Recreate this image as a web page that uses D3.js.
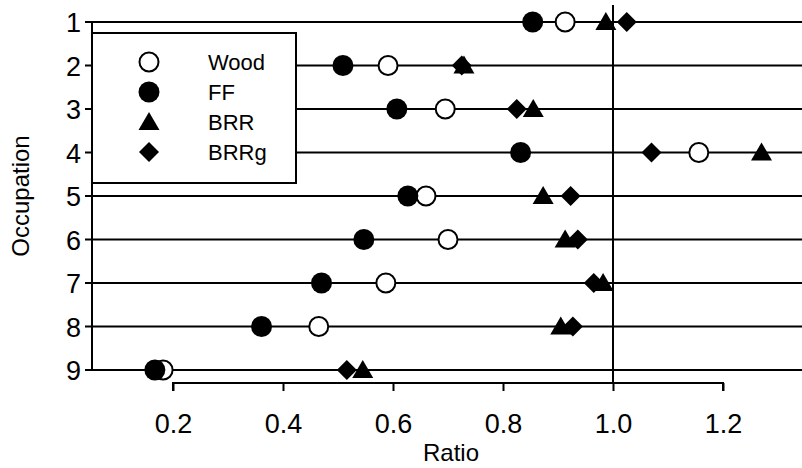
<!DOCTYPE html>
<html>
<head>
<meta charset="utf-8">
<title>Occupation ratios</title>
<script src="https://cdn.jsdelivr.net/npm/d3@7"></script>
<style>
  body { margin: 0; background: #fff; }
  text { font-family: "Liberation Sans", Arial, Helvetica, sans-serif; fill: #000; }
</style>
</head>
<body>
<div id="chart"></div>
<script>
// data
const occupations = [1, 2, 3, 4, 5, 6, 7, 8, 9];
const wood = [0.913, 0.591, 0.695, 1.156, 0.660, 0.700, 0.587, 0.465, 0.182];
const ff   = [0.854, 0.509, 0.607, 0.832, 0.627, 0.547, 0.470, 0.361, 0.167];
const brr  = [0.987, 0.729, 0.855, 1.270, 0.873, 0.913, 0.982, 0.905, 0.545];
const brrg = [1.025, 0.725, 0.825, 1.070, 0.923, 0.936, 0.965, 0.927, 0.516];
const xTicks = [0.2, 0.4, 0.6, 0.8, 1.0, 1.2];
const seriesNames = ["Wood", "FF", "BRR", "BRRg"];

const W = 802, H = 468;

const svg = d3.select("#chart").append("svg")
    .attr("width", W)
    .attr("height", H);

const x = d3.scaleLinear().domain([0.2, 1.2]).range([173, 723]);
const y = d3.scalePoint().domain(occupations).range([22, 370]);
const axisX = 92, axisY = 383;

// marker shapes
function shape(name) {
    if (name === "BRR") return "M0,-10L10.5,8L-10.5,8Z";
    return "M0,-10L10,0L0,10L-10,0Z";
}
function drawMarker(g, name) {
    if (name === "Wood") {
        g.append("circle").attr("r", 9.5)
            .attr("fill", "#fff").attr("stroke", "#000").attr("stroke-width", 2);
    } else if (name === "FF") {
        g.append("circle").attr("r", 10.5).attr("fill", "#000");
    } else {
        g.append("path").attr("d", shape(name)).attr("fill", "#000");
    }
}

// row lines
svg.selectAll("line.row").data(occupations).enter()
    .append("line")
    .attr("class", "row")
    .attr("x1", axisX - 7).attr("x2", W)
    .attr("y1", d => y(d)).attr("y2", d => y(d))
    .attr("stroke", "#000").attr("stroke-width", 2);

// y axis line
svg.append("line")
    .attr("x1", axisX).attr("x2", axisX)
    .attr("y1", y(1) - 1).attr("y2", y(9) + 1)
    .attr("stroke", "#000").attr("stroke-width", 2);

// y tick labels
svg.selectAll("text.ylab").data(occupations).enter()
    .append("text")
    .attr("class", "ylab")
    .attr("x", 81)
    .attr("y", d => y(d) + 10)
    .attr("text-anchor", "end")
    .style("font-size", "27px")
    .text(d => d);

// reference line at 1.0
svg.append("line")
    .attr("x1", x(1)).attr("x2", x(1))
    .attr("y1", 5).attr("y2", axisY)
    .attr("stroke", "#000").attr("stroke-width", 2);

// x axis
const xAxis = svg.append("g")
    .attr("transform", "translate(0," + axisY + ")")
    .call(d3.axisBottom(x).tickValues(xTicks).tickSize(8).tickSizeOuter(8)
        .tickFormat(d3.format(".1f")));
xAxis.select(".domain").attr("stroke-width", 2).attr("d", "M" + x(0.2) + ",8V0H" + x(1.2) + "V8");
xAxis.selectAll(".tick line").attr("stroke-width", 2);
xAxis.selectAll(".tick text")
    .attr("y", 50).attr("dy", null)
    .style("font-size", "27px")
    .style("font-family", "'Liberation Sans', Arial, sans-serif")
    .attr("fill", "#000");

// markers
const all = { Wood: wood, FF: ff, BRR: brr, BRRg: brrg };
seriesNames.forEach(function(name) {
    all[name].forEach(function(v, i) {
        const g = svg.append("g")
            .attr("transform", "translate(" + x(v) + "," + y(occupations[i]) + ")");
        drawMarker(g, name);
    });
});

// legend
const legend = svg.append("g");
legend.append("rect")
    .attr("x", axisX).attr("y", 33)
    .attr("width", 204).attr("height", 150)
    .attr("fill", "#fff").attr("stroke", "#000").attr("stroke-width", 2);
seriesNames.forEach(function(name, i) {
    const g = legend.append("g")
        .attr("transform", "translate(149," + (62 + i * 30) + ")");
    drawMarker(g, name);
    legend.append("text")
        .attr("x", 208).attr("y", 62 + i * 30 + 8)
        .style("font-size", "22px")
        .text(name);
});

// axis titles
svg.append("text")
    .attr("x", 451).attr("y", 461)
    .attr("text-anchor", "middle")
    .style("font-size", "24px")
    .text("Ratio");

svg.append("text")
    .attr("transform", "translate(29,196) rotate(-90)")
    .attr("text-anchor", "middle")
    .style("font-size", "24px")
    .text("Occupation");
</script>
</body>
</html>
